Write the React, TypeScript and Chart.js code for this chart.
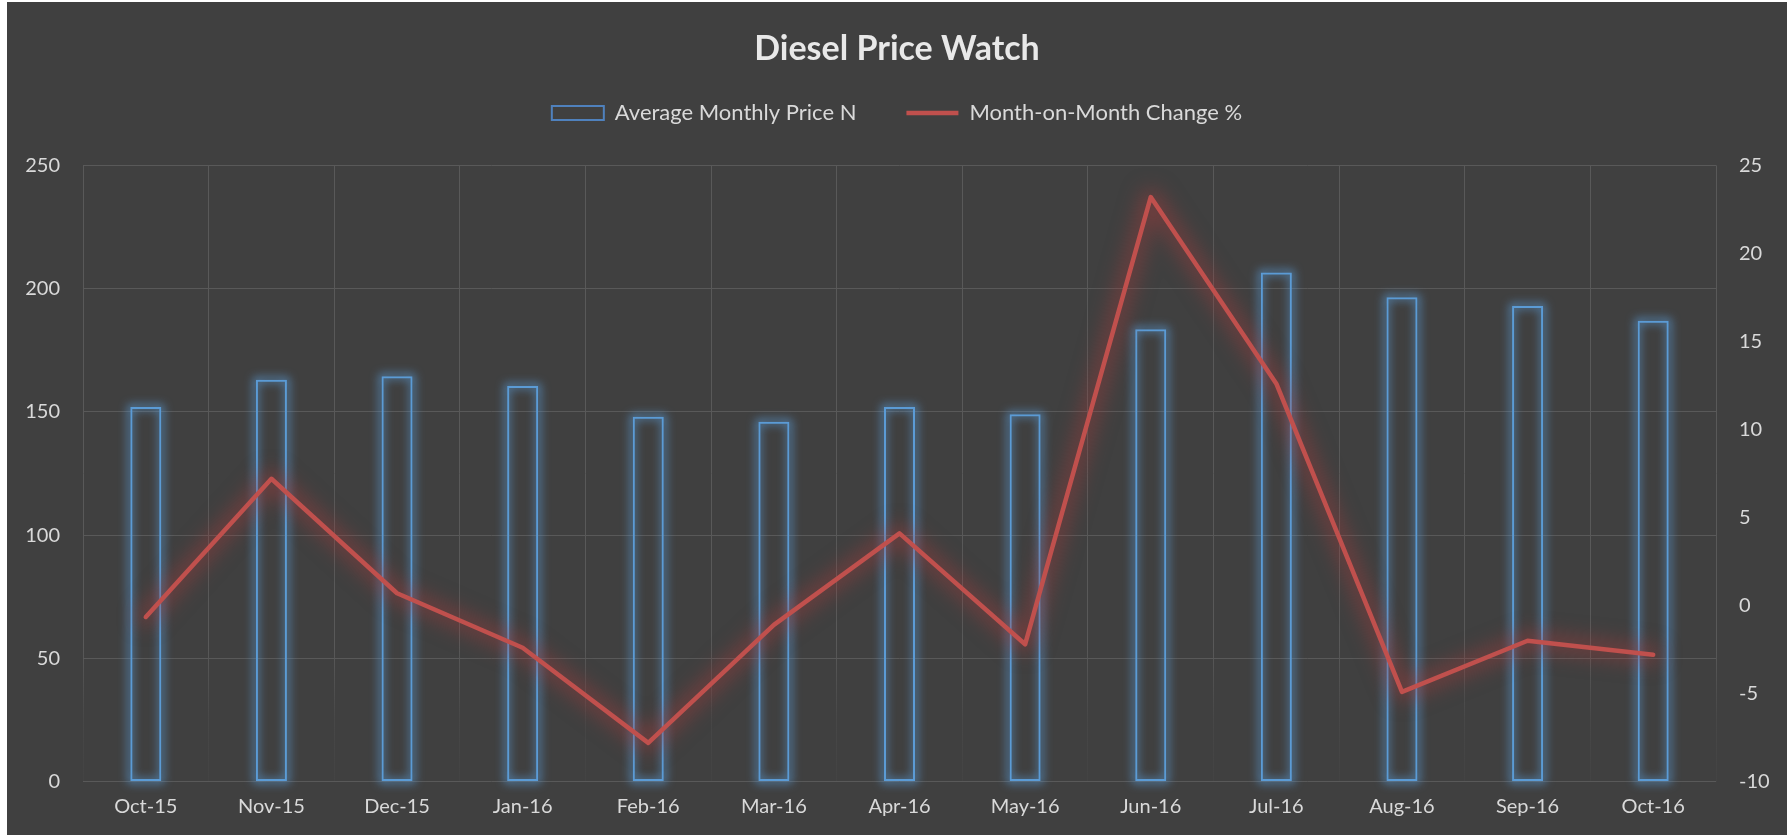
import React, { useEffect, useRef } from 'react';
import { Chart, registerables } from 'chart.js';

Chart.register(...registerables);

const chartTitle = 'Diesel Price Watch';
const categories = ['Oct-15', 'Nov-15', 'Dec-15', 'Jan-16', 'Feb-16', 'Mar-16', 'Apr-16', 'May-16', 'Jun-16', 'Jul-16', 'Aug-16', 'Sep-16', 'Oct-16'];
const barLabel = 'Average Monthly Price N';
const lineLabel = 'Month-on-Month Change %';
const avgPrice = [152, 163, 164.5, 160.5, 148, 146, 152, 149, 183.5, 206.5, 196.5, 193, 187];
const momChange = [-0.65, 7.2, 0.7, -2.4, -7.8, -1.1, 4.1, -2.2, 23.2, 12.6, -4.9, -2.0, -2.8];
const leftTicks = [0, 50, 100, 150, 200, 250];
const rightTicks = [-10, -5, 0, 5, 10, 15, 20, 25];

const FONT = 'Lato, "Open Sans", sans-serif';
const TEXT = '#d9d9d9';
const GRID = '#595959';
const BLUE = '#5b9bd5';
const RED = '#c0504d';

const glowPlugin = {
  id: 'glow',
  beforeDatasetDraw(chart: any, args: any) {
    const ctx = chart.ctx;
    const meta = args.meta;
    const off = 10000;
    if (meta.type === 'bar') {
      ctx.save();
      ctx.shadowColor = 'rgba(91,155,213,0.95)';
      ctx.shadowBlur = 10;
      ctx.shadowOffsetX = off;
      ctx.strokeStyle = BLUE;
      ctx.lineWidth = 4;
      meta.data.forEach((el: any) => {
        const p = el.getProps(['x', 'y', 'base', 'width'], true);
        ctx.strokeRect(p.x - p.width / 2 - off, Math.min(p.y, p.base), p.width, Math.abs(p.base - p.y));
      });
      ctx.restore();
    } else if (meta.type === 'line') {
      ctx.save();
      ctx.shadowColor = 'rgba(170,60,60,0.5)';
      ctx.shadowBlur = 20;
      ctx.shadowOffsetX = off;
      ctx.strokeStyle = RED;
      ctx.lineWidth = 16;
      ctx.lineJoin = 'round';
      ctx.lineCap = 'round';
      ctx.beginPath();
      meta.data.forEach((el: any, i: number) => {
        const p = el.getProps(['x', 'y'], true);
        if (i === 0) ctx.moveTo(p.x - off, p.y);
        else ctx.lineTo(p.x - off, p.y);
      });
      ctx.stroke();
      ctx.restore();
    }
  },
};

function fadeGrid(c: any) {
  const chart = c.chart;
  const ca = chart.chartArea;
  if (!ca) return GRID;
  const g = chart.ctx.createLinearGradient(0, ca.top, 0, ca.bottom);
  g.addColorStop(0, GRID);
  g.addColorStop(0.78, GRID);
  g.addColorStop(0.9, '#474747');
  g.addColorStop(1, '#434343');
  return g;
}

export default function App() {
  const ref = useRef<HTMLCanvasElement | null>(null);

  useEffect(() => {
    if (!ref.current) return;
    const chart = new Chart(ref.current, {
      type: 'bar',
      data: {
        labels: categories,
        datasets: [
          {
            type: 'bar',
            label: barLabel,
            data: avgPrice,
            yAxisID: 'y',
            backgroundColor: 'transparent',
            borderColor: BLUE,
            borderWidth: 2,
            borderSkipped: false,
            categoryPercentage: 1,
            barPercentage: 0.247,
            order: 1,
          },
          {
            type: 'line',
            label: lineLabel,
            data: momChange,
            yAxisID: 'y1',
            borderColor: RED,
            backgroundColor: RED,
            borderWidth: 4.5,
            borderCapStyle: 'round',
            borderJoinStyle: 'round',
            pointRadius: 0,
            tension: 0,
            order: 0,
          },
        ],
      } as any,
      options: {
        responsive: false,
        animation: false,
        layout: { padding: 0 },
        plugins: {
          title: {
            display: true,
            text: chartTitle,
            color: '#e8e8e8',
            font: { family: FONT, size: 34, weight: 'bold', lineHeight: 1.2 },
            padding: { top: 26.6, bottom: -17.4 },
          },
          legend: {
            display: true,
            position: 'top',
            labels: {
              color: TEXT,
              font: { family: FONT, size: 22 },
              usePointStyle: true,
              pointStyleWidth: 52,
              boxHeight: 14,
              padding: 50,
              generateLabels: (c: any) => {
                const items = (Chart.defaults as any).plugins.legend.labels.generateLabels(c);
                return items
                  .map((it: any) => ({
                    ...it,
                    pointStyle: it.datasetIndex === 0 ? 'rect' : 'line',
                    strokeStyle: it.datasetIndex === 0 ? '#4f81bd' : it.strokeStyle,
                  }))
                  .sort((a: any, b: any) => a.datasetIndex - b.datasetIndex);
              },
            },
          },
          subtitle: {
            display: true,
            text: '',
            weight: 500,
            font: { size: 10, lineHeight: 1 },
            padding: { top: 0, bottom: 21.4 },
          } as any,
          tooltip: { enabled: false },
        },
        scales: {
          x: {
            grid: { color: fadeGrid, lineWidth: 1, drawTicks: false, offset: true },
            border: { display: false },
            ticks: { color: TEXT, font: { family: FONT, size: 20 }, padding: 13, maxRotation: 0, autoSkip: false },
            afterFit: (s: any) => { s.height = 53.4; },
          },
          y: {
            position: 'left',
            min: leftTicks[0],
            max: leftTicks[leftTicks.length - 1],
            grid: { color: GRID, lineWidth: 1, drawTicks: false },
            border: { display: false },
            ticks: { color: TEXT, font: { family: FONT, size: 20 }, padding: 23, stepSize: leftTicks[1] - leftTicks[0] },
            afterFit: (s: any) => { s.width = 76; },
          },
          y1: {
            position: 'right',
            min: rightTicks[0],
            max: rightTicks[rightTicks.length - 1],
            grid: { drawOnChartArea: false, drawTicks: false },
            border: { display: false },
            ticks: { color: TEXT, font: { family: FONT, size: 20 }, padding: 23, stepSize: rightTicks[1] - rightTicks[0] },
            afterFit: (s: any) => { s.width = 71; },
          },
        },
      } as any,
      plugins: [glowPlugin],
    });
    return () => chart.destroy();
  }, []);

  return (
    <div style={{ position: 'fixed', left: 0, top: 0, width: 1789, height: 835, background: '#ffffff' }}>
      <div style={{ position: 'absolute', left: 7, top: 2, width: 1780, height: 833, background: '#404040' }}>
        <canvas ref={ref} width={1780} height={833} style={{ width: 1780, height: 833, display: 'block' }} />
      </div>
    </div>
  );
}
